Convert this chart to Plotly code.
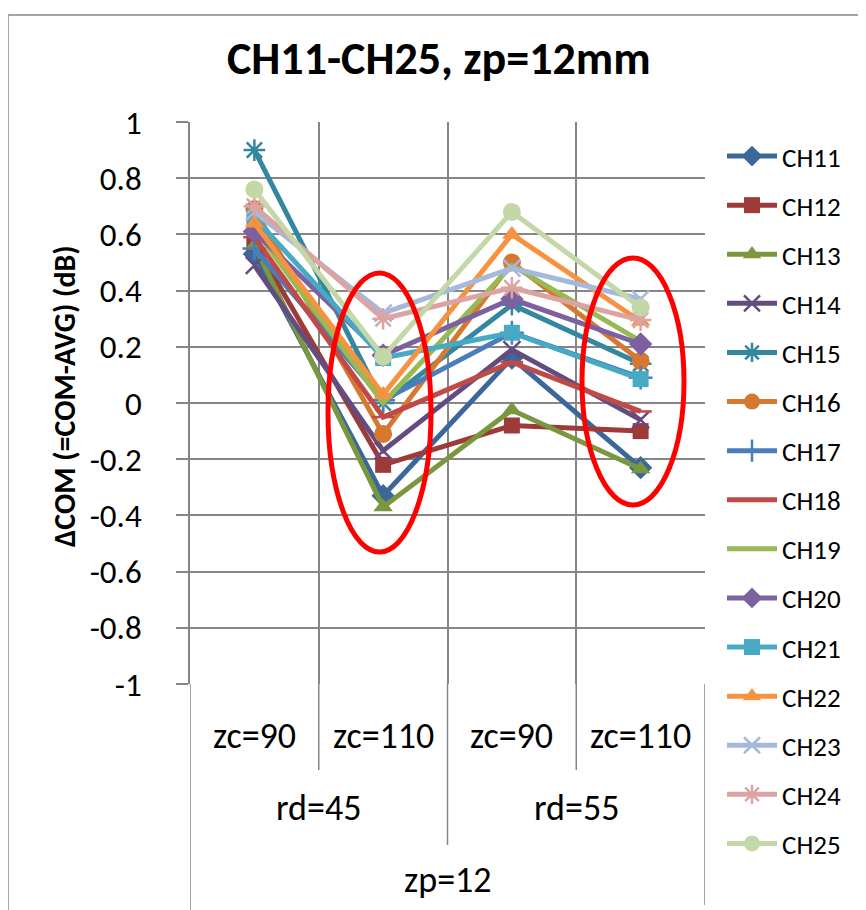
import plotly.graph_objects as go

# ---------------- data ----------------
zc_labels = ["zc=90", "zc=110", "zc=90", "zc=110"]
rd_labels = ["rd=45", "rd=55"]
zp_label = "zp=12"

series_names = ["CH11", "CH12", "CH13", "CH14", "CH15", "CH16", "CH17", "CH18",
                "CH19", "CH20", "CH21", "CH22", "CH23", "CH24", "CH25"]

ch11 = [0.53, -0.33, 0.16, -0.23]
ch12 = [0.57, -0.22, -0.08, -0.10]
ch13 = [0.56, -0.37, -0.025, -0.235]
ch14 = [0.49, -0.17, 0.19, -0.06]
ch15 = [0.90, 0.00, 0.35, 0.14]
ch16 = [0.69, -0.11, 0.50, 0.15]
ch17 = [0.55, 0.01, 0.25, 0.09]
ch18 = [0.59, -0.05, 0.145, -0.03]
ch19 = [0.62, 0.00, 0.49, 0.22]
ch20 = [0.61, 0.17, 0.37, 0.21]
ch21 = [0.66, 0.16, 0.25, 0.085]
ch22 = [0.64, 0.03, 0.60, 0.29]
ch23 = [0.68, 0.32, 0.48, 0.37]
ch24 = [0.70, 0.30, 0.41, 0.295]
ch25 = [0.76, 0.165, 0.68, 0.34]
series_values = [ch11, ch12, ch13, ch14, ch15, ch16, ch17, ch18,
                 ch19, ch20, ch21, ch22, ch23, ch24, ch25]

y_ticks = [1, 0.8, 0.6, 0.4, 0.2, 0, -0.2, -0.4, -0.6, -0.8, -1]
y_tick_text = ["1", "0.8", "0.6", "0.4", "0.2", "0", "-0.2", "-0.4", "-0.6", "-0.8", "-1"]

# ---------------- styles ----------------
colors = ["#3C679A", "#9E3A38", "#7A963F", "#634C80", "#33879E", "#D6782F",
          "#4A7EBB", "#BE4B48", "#98B954", "#7D60A0", "#46AAC5", "#F69240",
          "#A6B9DB", "#DBA4A3", "#C4D7A6"]
symbols = ["diamond", "square", "triangle-up", "x-thin-open", "asterisk-open", "circle",
           "cross-thin-open", "line-ew-open", None, "diamond", "square", "triangle-up",
           "x-thin-open", "asterisk-open", "circle"]
sizes = [18, 16, 17, 17, 18, 18, 17, 16, 0, 18, 16, 17, 17, 18, 18]

FONT = "Carlito, Lato, sans-serif"

# page offset (body margin) and target pixel geometry of plot area (screen coords)
OFF = 8
W, H = 866 - OFF, 910 - OFF
L, R, T, B = 190, 705, 122, 684

x_pos = [i + 0.5 for i in range(len(zc_labels))]

fig = go.Figure()
for i, (name, vals) in enumerate(zip(series_names, series_values)):
    sym = symbols[i]
    if sym is None:
        marker = dict(size=1, opacity=0)
        mode = "lines"
    else:
        if sym.endswith("-open"):
            marker = dict(symbol=sym, size=sizes[i], color=colors[i],
                          line=dict(color=colors[i], width=2.5))
        else:
            marker = dict(symbol=sym, size=sizes[i], color=colors[i],
                          line=dict(width=0))
        mode = "lines+markers"
    fig.add_trace(go.Scatter(
        x=x_pos, y=vals, name=name, mode=mode,
        line=dict(color=colors[i], width=5),
        marker=marker, legendgroup=name,
    ))

def px_x(p):
    return (p - L) / (R - L)

def px_y(p):
    return (B - p) / (B - T)

shapes = []
# chart border
shapes.append(dict(type="rect", xref="paper", yref="paper",
                   x0=px_x(8), x1=px_x(920), y0=px_y(960), y1=px_y(15),
                   line=dict(color="#898989", width=1.5), fillcolor="rgba(0,0,0,0)", layer="below"))
# category axis divider lines
for xb, yb in [(0, 910), (1, 770), (2, 845), (3, 770), (4, 905)]:
    shapes.append(dict(type="line", xref="x", yref="paper",
                       x0=xb, x1=xb, y0=0, y1=px_y(yb),
                       line=dict(color="#868686", width=1.5)))
# red ellipses
shapes.append(dict(type="circle", xref="paper", yref="paper",
                   x0=px_x(328), x1=px_x(431), y0=px_y(552), y1=px_y(273),
                   line=dict(color="#FF0000", width=5)))
shapes.append(dict(type="circle", xref="paper", yref="paper",
                   x0=px_x(582), x1=px_x(684), y0=px_y(505), y1=px_y(258),
                   line=dict(color="#FF0000", width=5)))

annotations = []
lab_font = dict(family=FONT, size=36, color="black")
for i, lab in enumerate(zc_labels):
    annotations.append(dict(x=x_pos[i], y=px_y(736), xref="x", yref="paper",
                            text=lab, showarrow=False, font=lab_font,
                            xanchor="center", yanchor="middle"))
for j, lab in enumerate(rd_labels):
    annotations.append(dict(x=2 * j + 1, y=px_y(808), xref="x", yref="paper",
                            text=lab, showarrow=False, font=lab_font,
                            xanchor="center", yanchor="middle"))
annotations.append(dict(x=2, y=px_y(880), xref="x", yref="paper",
                        text=zp_label, showarrow=False, font=lab_font,
                        xanchor="center", yanchor="middle"))
# title
annotations.append(dict(x=px_x(439), y=px_y(58), xref="paper", yref="paper",
                        text="<b>CH11-CH25, zp=12mm</b>", showarrow=False,
                        font=dict(family=FONT, size=46, color="black"),
                        xanchor="center", yanchor="middle"))
# y-axis title
annotations.append(dict(x=px_x(64), y=px_y(396), xref="paper", yref="paper",
                        text="<b>ΔCOM (=COM-AVG) (dB)</b>", showarrow=False,
                        textangle=-90,
                        font=dict(family=FONT, size=30, color="black"),
                        xanchor="center", yanchor="middle"))

fig.update_layout(
    width=W, height=H,
    margin=dict(l=L - OFF, r=W - (R - OFF), t=T - OFF, b=H - (B - OFF), pad=0),
    paper_bgcolor="white", plot_bgcolor="white",
    showlegend=True,
    legend=dict(x=px_x(722), y=px_y(132), xanchor="left", yanchor="top",
                font=dict(family=FONT, size=27, color="black"),
                tracegroupgap=11, itemwidth=50, bgcolor="rgba(0,0,0,0)",
                traceorder="grouped", maxheight=860),
    shapes=shapes,
    annotations=annotations,
    xaxis=dict(range=[0, 4], tickvals=[0, 1, 2, 3, 4], showticklabels=False,
               showgrid=True, gridcolor="#868686", gridwidth=1.5,
               zeroline=False, showline=False, ticks="", fixedrange=True),
    yaxis=dict(range=[-1, 1], tickvals=y_ticks, ticktext=y_tick_text,
               showgrid=True, gridcolor="#868686", gridwidth=1.5,
               zeroline=False, showline=True, linecolor="#868686", linewidth=1.5,
               ticks="outside", ticklen=12, tickcolor="#868686", tickwidth=1.5,
               ticklabelstandoff=28,
               tickfont=dict(family=FONT, size=33, color="black"), fixedrange=True),
)

fig.write_html("out.html")
